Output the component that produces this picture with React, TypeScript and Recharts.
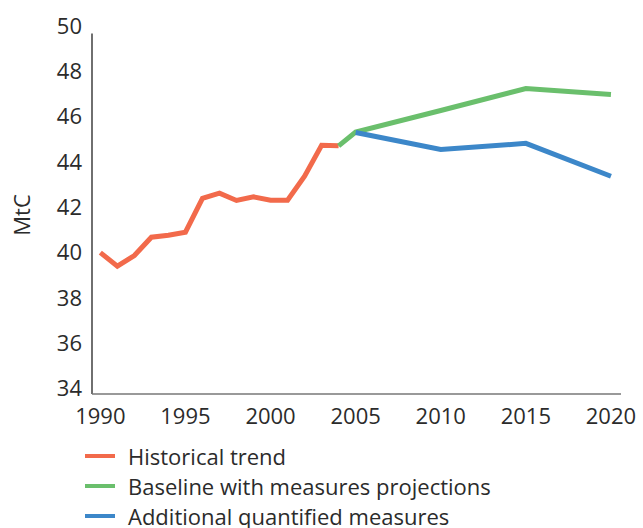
import { LineChart, Line, XAxis, YAxis, Legend, ReferenceLine } from "recharts";

const histYears = [1990, 1991, 1992, 1993, 1994, 1995, 1996, 1997, 1998, 1999, 2000, 2001, 2002, 2003, 2004];
const histValues = [40.0, 39.4, 39.87, 40.68, 40.77, 40.9, 42.39, 42.62, 42.3, 42.46, 42.31, 42.31, 43.37, 44.74, 44.71];

const baselineYears = [2004, 2005, 2010, 2015, 2020];
const baselineValues = [44.71, 45.32, 46.27, 47.24, 46.98];

const additionalYears = [2005, 2010, 2015, 2020];
const additionalValues = [45.3, 44.55, 44.82, 43.37];

const seriesNames = [
  "Historical trend",
  "Baseline with measures projections",
  "Additional quantified measures",
];

const xTicks = [1990, 1995, 2000, 2005, 2010, 2015, 2020];
const yTicks = [34, 36, 38, 40, 42, 44, 46, 48, 50];

const xDomain = [1989.51, 2020.59];
const yDomain = [33.76, 50];
const yAxisTop = 49.67;

const FONT = "'Open Sans', 'Noto Sans', sans-serif";
const INK = "#2b2b2b";

const toPoints = (years: number[], values: number[]) =>
  years.map((year, i) => ({ year, value: values[i] }));

function LegendList({ payload }: any) {
  const items = [...(payload || [])].sort(
    (a: any, b: any) => seriesNames.indexOf(a.value) - seriesNames.indexOf(b.value)
  );
  return (
    <div style={{ fontFamily: FONT, fontSize: 22, color: INK }}>
      {items.map((entry: any) => (
        <div
          key={entry.value}
          style={{ display: "flex", alignItems: "center", height: 30 }}
        >
          <span
            style={{
              display: "inline-block",
              width: 30,
              height: 4,
              background: entry.color,
              marginRight: 13,
            }}
          />
          <span>{entry.value}</span>
        </div>
      ))}
    </div>
  );
}

export default function App() {
  return (
    <div style={{ position: "absolute", left: 0, top: 0 }}>
      <LineChart
        width={643}
        height={528}
        margin={{ top: 26, right: 22, bottom: 94, left: 0 }}
      >
        <XAxis
          dataKey="year"
          type="number"
          domain={xDomain}
          ticks={xTicks}
          allowDataOverflow
          height={40}
          tickLine={false}
          tickSize={0}
          tickMargin={14}
          tick={{ fontSize: 22, fill: INK, fontFamily: FONT }}
          axisLine={{ stroke: "#777", strokeWidth: 1.5 }}
        />
        <YAxis
          type="number"
          domain={yDomain}
          ticks={yTicks}
          allowDataOverflow
          width={92}
          tickLine={false}
          tickSize={0}
          tickMargin={10}
          axisLine={false}
          tick={{ fontSize: 22, fill: INK, fontFamily: FONT }}
          label={{
            content: () => (
              <text
                x={21}
                y={215}
                transform="rotate(-90 21 215)"
                textAnchor="middle"
                dominantBaseline="central"
                fontSize={22}
                fill={INK}
                fontFamily={FONT}
              >
                MtC
              </text>
            ),
          }}
        />
        <ReferenceLine
          segment={[
            { x: xDomain[0], y: yDomain[0] },
            { x: xDomain[0], y: yAxisTop },
          ]}
          stroke="#222"
          strokeWidth={1.3}
          ifOverflow="visible"
        />
        <Legend
          layout="vertical"
          align="center"
          verticalAlign="middle"
          content={<LegendList />}
          wrapperStyle={{ left: 85, top: 441, width: "auto" }}
        />
        <Line
          data={toPoints(histYears, histValues)}
          dataKey="value"
          name={seriesNames[0]}
          stroke="#F26A4B"
          strokeWidth={5}
          dot={false}
          isAnimationActive={false}
        />
        <Line
          data={toPoints(baselineYears, baselineValues)}
          dataKey="value"
          name={seriesNames[1]}
          stroke="#6ABF6C"
          strokeWidth={5}
          dot={false}
          isAnimationActive={false}
        />
        <Line
          data={toPoints(additionalYears, additionalValues)}
          dataKey="value"
          name={seriesNames[2]}
          stroke="#3C87C9"
          strokeWidth={5}
          dot={false}
          isAnimationActive={false}
        />
      </LineChart>
    </div>
  );
}
